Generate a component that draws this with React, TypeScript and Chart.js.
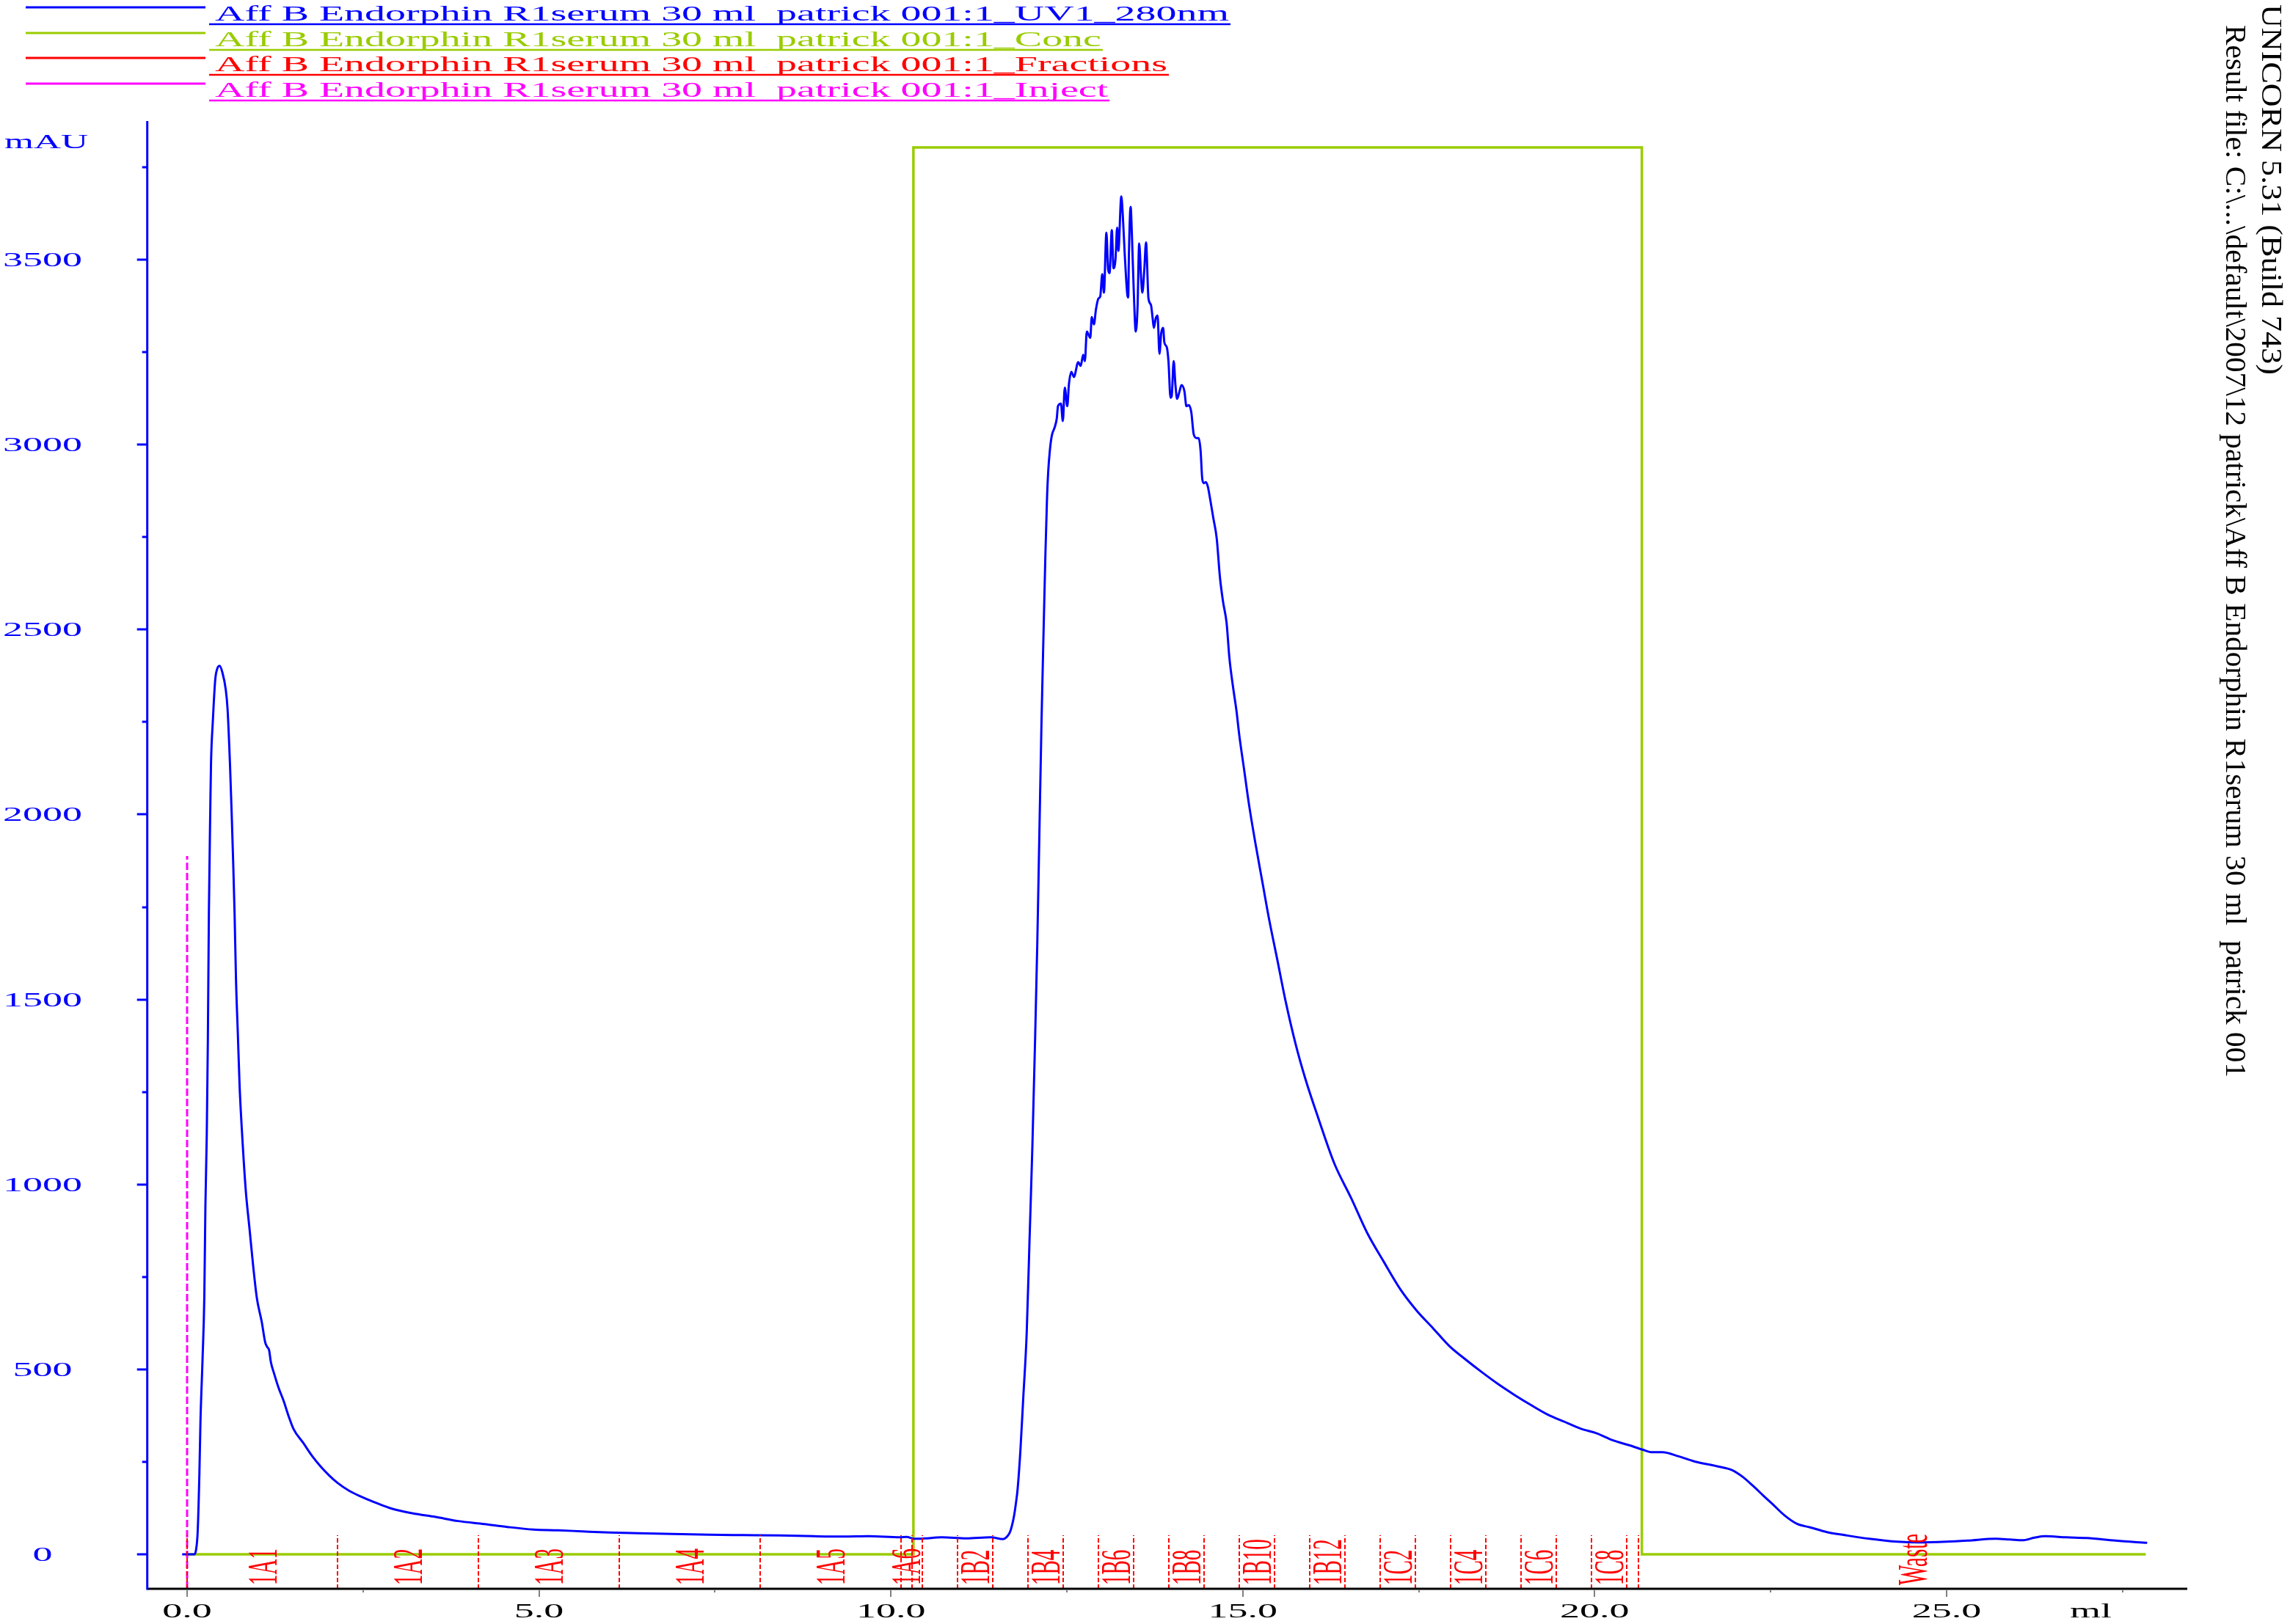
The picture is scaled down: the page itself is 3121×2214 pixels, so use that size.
import React, { useEffect, useRef } from 'react';
import { Chart, registerables } from 'chart.js';

Chart.register(...registerables);

// ---------------- DATA ----------------
const UV_ML = [
  -0.07, 0.10, 0.125, 0.15, 0.175, 0.19, 0.22, 0.245, 0.26, 0.28, 0.295, 0.31, 0.33, 0.34, 0.365, 0.40, 0.43, 0.462,
  0.50, 0.55, 0.575, 0.61, 0.636, 0.655, 0.675, 0.695, 0.72, 0.747, 0.782, 0.834, 0.886, 0.938, 0.991, 1.06, 1.11,
  1.14, 1.165, 1.19, 1.234, 1.30, 1.373, 1.44, 1.512, 1.651, 1.78, 1.895, 2.02, 2.138, 2.30, 2.485, 2.70, 2.90, 3.20,
  3.53, 3.85, 4.22, 4.55, 4.92, 5.27, 5.62, 6.0, 6.42, 6.9, 7.42, 7.9, 8.42, 8.9, 9.33, 9.68, 10.13, 10.22, 10.34,
  10.48, 10.72, 11.07, 11.42, 11.59, 11.66, 11.70, 11.75, 11.78, 11.80, 11.84, 11.88, 11.93, 11.97, 12.01, 12.05,
  12.08, 12.11, 12.14, 12.17, 12.195, 12.218,
  12.235, 12.259, 12.287, 12.329, 12.357, 12.374, 12.416, 12.443, 12.471, 12.506, 12.530, 12.565, 12.600, 12.662,
  12.697, 12.732, 12.756, 12.784, 12.833, 12.854, 12.885, 12.913, 12.948, 12.975, 13.003, 13.027, 13.062, 13.087,
  13.107, 13.139, 13.163, 13.191, 13.215, 13.232, 13.274, 13.295, 13.323, 13.358, 13.372, 13.382, 13.406, 13.427,
  13.451, 13.479, 13.504, 13.528, 13.556, 13.573, 13.601, 13.625, 13.660, 13.695, 13.719, 13.736, 13.764, 13.789,
  13.816, 13.841, 13.868, 13.886, 13.921, 13.945, 13.973, 13.990, 14.018, 14.042, 14.067, 14.101, 14.129, 14.171,
  14.199, 14.234, 14.268, 14.303, 14.345, 14.373, 14.400, 14.425, 14.449, 14.477, 14.504, 14.536,
  14.58, 14.63, 14.675, 14.72, 14.77, 14.81, 14.86, 14.91, 14.95, 15.02, 15.09, 15.19, 15.28, 15.37, 15.49, 15.61,
  15.75, 15.89, 16.07, 16.30, 16.54, 16.77, 17.00, 17.24, 17.47, 17.70, 17.93, 18.17, 18.40, 18.63, 18.86, 19.10,
  19.33, 19.56, 19.80, 20.03, 20.26, 20.49, 20.68, 20.82, 20.96, 21.19, 21.42, 21.74, 21.95, 22.10, 22.25, 22.40,
  22.52, 22.70, 22.88, 23.06, 23.30, 23.55, 23.90, 24.30, 24.60, 25.00, 25.30, 25.70, 25.90, 26.08, 26.25, 26.40,
  26.70, 26.99, 27.40, 27.85,
];
const UV_MAU = [
  0, 0, 10, 60, 220, 360, 530, 700, 940, 1140, 1390, 1740, 2020, 2140, 2250, 2365, 2395, 2402,
  2385, 2337, 2285, 2133, 1987, 1870, 1730, 1552, 1413, 1262, 1135, 983, 882, 781, 693, 629, 573,
  560, 552, 520, 490, 450, 414, 375, 339, 301, 265, 238, 213, 193, 172, 155, 138, 124, 111,
  101, 90, 82, 74, 67, 65, 62, 59, 57, 55, 53, 52, 51, 49, 48, 49, 46, 47, 42,
  43, 46, 43, 46, 41, 50, 64, 104, 143, 175, 280, 420, 600, 850, 1100, 1400,
  1650, 1950, 2250, 2500, 2700, 2853,
  2926, 2985, 3025, 3048, 3071, 3104, 3111, 3064, 3154, 3104, 3164, 3197, 3183, 3223,
  3213, 3243, 3226, 3306, 3289, 3345, 3325, 3365, 3395, 3401, 3461, 3411, 3573, 3474,
  3464, 3580, 3477, 3501, 3587, 3524, 3671, 3620, 3514, 3408, 3398, 3514, 3643, 3553,
  3415, 3306, 3368, 3544, 3448, 3411, 3474, 3547, 3395, 3378, 3342, 3316, 3342, 3349,
  3246, 3302, 3316, 3276, 3263, 3223, 3127, 3131, 3226, 3164, 3124, 3144, 3161, 3144,
  3104, 3107, 3088, 3028, 3018, 3018, 2985, 2906, 2896, 2899, 2886, 2853,
  2803, 2746, 2642, 2575, 2518, 2423, 2347, 2281, 2215, 2120, 2025, 1911, 1816, 1721, 1608, 1494,
  1380, 1285, 1181, 1057, 963, 868, 792, 716, 659, 612, 564, 526, 492, 460, 431, 403,
  378, 359, 340, 327, 308, 295, 283, 276, 276, 265, 251, 238, 228, 210, 185, 158,
  137, 105, 82, 73, 60, 52, 42, 34, 32, 34, 37, 42, 40, 38, 45, 49,
  46, 44, 37, 31,
];

const CONC_ML = [0, 10.32, 10.32, 20.67, 20.67, 27.83];
const CONC_PCT = [0, 0, 100, 100, 0, 0];

const INJECT_ML = [0, 0];
const INJECT_MAU = [-93.2, 1888];

const FRACTION_MARKS_ML = [
  0, 2.14, 4.14, 6.14, 8.14, 10.14, 10.30, 10.45, 10.95, 11.45, 11.95, 12.45, 12.95, 13.45, 13.95, 14.45,
  14.95, 15.45, 15.95, 16.45, 16.95, 17.45, 17.95, 18.45, 18.95, 19.45, 19.95, 20.45, 20.62,
];
const FRACTION_LABELS = [
  '1A1', '1A2', '1A3', '1A4', '1A5', '1A6', '', '', '1B2', '', '1B4', '', '1B6', '', '1B8', '',
  '1B10', '', '1B12', '', '1C2', '', '1C4', '', '1C6', '', '1C8', '', 'Waste',
];

const X_TICKS = [0, 2.5, 5, 7.5, 10, 12.5, 15, 17.5, 20, 22.5, 25, 27.5];
const X_LABEL_VALUES = [0, 5, 10, 15, 20, 25];
const X_TICK_LABELS = ['0.0', '5.0', '10.0', '15.0', '20.0', '25.0'];
const X_UNIT = 'ml';
const X_UNIT_AT = 27.05;

const Y_TICKS = [0, 250, 500, 750, 1000, 1250, 1500, 1750, 2000, 2250, 2500, 2750, 3000, 3250, 3500, 3750];
const Y_LABEL_VALUES = [0, 500, 1000, 1500, 2000, 2500, 3000, 3500];
const Y_TICK_LABELS = ['0', '500', '1000', '1500', '2000', '2500', '3000', '3500'];
const Y_UNIT = 'mAU';

const LEGEND_NAMES = [
  'Aff B Endorphin R1serum 30 ml  patrick 001:1_UV1_280nm',
  'Aff B Endorphin R1serum 30 ml  patrick 001:1_Conc',
  'Aff B Endorphin R1serum 30 ml  patrick 001:1_Fractions',
  'Aff B Endorphin R1serum 30 ml  patrick 001:1_Inject',
];
const SIDE_TEXT_1 = 'UNICORN 5.31 (Build 743)';
const SIDE_TEXT_2 = 'Result file: C:\\...\\default\\2007\\12 patrick\\Aff B Endorphin R1serum 30 ml  patrick 001';

// ---------------- STYLE ----------------
const BLUE = '#0000FF';
const GREEN = '#99CC00';
const RED = '#FF0000';
const MAGENTA = '#FF00FF';
const LEGEND_COLORS = [BLUE, GREEN, RED, MAGENTA];
const SERIF = '"Liberation Serif", "Times New Roman", serif';

const X_MIN = -0.566;
const X_MAX = 28.42;
const Y_MIN = -93.2;
const Y_MAX = 3875;
const CONC_MIN = -2.45;
const CONC_MAX = 101.88;

function drawText(
  ctx: CanvasRenderingContext2D,
  s: string,
  x: number,
  y: number,
  size: number,
  color: string,
  sx: number,
  align: CanvasTextAlign,
  rot = 0,
) {
  ctx.save();
  ctx.translate(x, y);
  if (rot) ctx.rotate(rot);
  ctx.scale(sx, 1);
  ctx.font = `${size}px ${SERIF}`;
  ctx.fillStyle = color;
  ctx.textAlign = align;
  ctx.textBaseline = 'alphabetic';
  ctx.fillText(s, 0, 0);
  ctx.restore();
}

function hLine(ctx: CanvasRenderingContext2D, x1: number, x2: number, y: number, color: string, w: number) {
  ctx.beginPath();
  ctx.strokeStyle = color;
  ctx.lineWidth = w;
  ctx.moveTo(x1, y);
  ctx.lineTo(x2, y);
  ctx.stroke();
}
function vLine(ctx: CanvasRenderingContext2D, x: number, y1: number, y2: number, color: string, w: number) {
  ctx.beginPath();
  ctx.strokeStyle = color;
  ctx.lineWidth = w;
  ctx.moveTo(x, y1);
  ctx.lineTo(x, y2);
  ctx.stroke();
}

const unicornPlugin = {
  id: 'unicornDecor',
  afterDatasetsDraw(chart: any) {
    const ctx: CanvasRenderingContext2D = chart.ctx;
    const xs = chart.scales.x;
    const area = chart.chartArea;
    const axisY = area.bottom;
    ctx.save();
    ctx.setLineDash([6, 3]);
    FRACTION_MARKS_ML.forEach((m) => {
      const px = Math.round(xs.getPixelForValue(m));
      vLine(ctx, px, axisY, axisY - 73, RED, 2);
    });
    ctx.setLineDash([]);
    FRACTION_LABELS.forEach((lab, i) => {
      if (!lab) return;
      const a = FRACTION_MARKS_ML[i];
      const b = i + 1 < FRACTION_MARKS_ML.length ? FRACTION_MARKS_ML[i + 1] : X_MAX;
      const mid = xs.getPixelForValue((a + b) / 2);
      drawText(ctx, lab, mid + 19, axisY - 5, 58, RED, 0.5, 'left', -Math.PI / 2);
    });
    ctx.restore();
  },
  afterDraw(chart: any) {
    const ctx: CanvasRenderingContext2D = chart.ctx;
    const xs = chart.scales.x;
    const ys = chart.scales.y;
    const area = chart.chartArea;
    ctx.save();
    // x axis
    hLine(ctx, area.left, area.right, area.bottom, '#000000', 3);
    X_TICKS.forEach((v) => {
      const px = Math.round(xs.getPixelForValue(v));
      const major = X_LABEL_VALUES.includes(v);
      vLine(ctx, px, area.bottom + 1.5, area.bottom + (major ? 11 : 5), '#808080', 2);
    });
    X_LABEL_VALUES.forEach((v, i) => {
      drawText(ctx, X_TICK_LABELS[i], xs.getPixelForValue(v), 2205, 27, '#000000', 2.0, 'center');
    });
    drawText(ctx, X_UNIT, xs.getPixelForValue(X_UNIT_AT), 2205, 27, '#000000', 2.0, 'center');
    // y axis
    vLine(ctx, area.left, area.top, area.bottom + 1.5, BLUE, 3);
    Y_TICKS.forEach((v) => {
      const py = Math.round(ys.getPixelForValue(v));
      const major = Y_LABEL_VALUES.includes(v);
      hLine(ctx, area.left - (major ? 14 : 7), area.left, py, BLUE, 3);
    });
    Y_LABEL_VALUES.forEach((v, i) => {
      drawText(ctx, Y_TICK_LABELS[i], 58, ys.getPixelForValue(v) + 9, 27, BLUE, 2.0, 'center');
    });
    drawText(ctx, Y_UNIT, 63, 202, 27, BLUE, 1.9, 'center');

    // legend
    ctx.font = `30px ${SERIF}`;
    const w0 = ctx.measureText(LEGEND_NAMES[0]).width;
    const lsx = 1382 / w0;
    const baselines = [28, 63, 97, 132];
    LEGEND_NAMES.forEach((name, i) => {
      const b = baselines[i];
      const col = LEGEND_COLORS[i];
      hLine(ctx, 35, 280, b - 18, col, 3);
      drawText(ctx, name, 293, b, 30, col, lsx, 'left');
      ctx.font = `30px ${SERIF}`;
      const w = ctx.measureText(name).width * lsx;
      hLine(ctx, 285, 293 + w + 2, b + 5, col, 2.5);
    });

    // side texts
    ctx.font = `40px ${SERIF}`;
    const w1 = ctx.measureText(SIDE_TEXT_1).width;
    const w2 = ctx.measureText(SIDE_TEXT_2).width;
    drawText(ctx, SIDE_TEXT_1, 3083, 6, 40, '#000000', 505 / w1, 'left', Math.PI / 2);
    drawText(ctx, SIDE_TEXT_2, 3034, 34, 40, '#000000', 1435 / w2, 'left', Math.PI / 2);
    ctx.restore();
  },
};

export default function App() {
  const ref = useRef<HTMLCanvasElement | null>(null);
  useEffect(() => {
    document.body.style.margin = '0';
    document.documentElement.style.overflow = 'hidden';
    const canvas = ref.current;
    if (!canvas) return;
    const uv = UV_ML.map((x, i) => ({ x, y: UV_MAU[i] }));
    const conc = CONC_ML.map((x, i) => ({ x, y: CONC_PCT[i] }));
    const inj = INJECT_ML.map((x, i) => ({ x, y: INJECT_MAU[i] }));
    const chart = new Chart(canvas, {
      type: 'line',
      data: {
        datasets: [
          {
            label: LEGEND_NAMES[0],
            data: uv,
            borderColor: BLUE,
            borderWidth: 3,
            pointRadius: 0,
            fill: false,
            cubicInterpolationMode: 'monotone',
            borderJoinStyle: 'round',
            yAxisID: 'y',
          },
          {
            label: LEGEND_NAMES[1],
            data: conc,
            borderColor: GREEN,
            borderWidth: 3.5,
            pointRadius: 0,
            fill: false,
            tension: 0,
            yAxisID: 'conc',
          },
          {
            label: LEGEND_NAMES[3],
            data: inj,
            borderColor: MAGENTA,
            borderWidth: 3,
            borderDash: [10, 4],
            pointRadius: 0,
            fill: false,
            tension: 0,
            yAxisID: 'y',
          },
        ],
      },
      options: {
        responsive: false,
        devicePixelRatio: 1,
        animation: false,
        events: [],
        layout: { padding: { left: 200.7, right: 140, top: 165, bottom: 48 } },
        plugins: { legend: { display: false }, tooltip: { enabled: false } },
        scales: {
          x: { type: 'linear', display: false, min: X_MIN, max: X_MAX },
          y: { type: 'linear', display: false, min: Y_MIN, max: Y_MAX },
          conc: { type: 'linear', axis: 'y', display: false, min: CONC_MIN, max: CONC_MAX },
        },
      } as any,
      plugins: [unicornPlugin],
    } as any);
    return () => chart.destroy();
  }, []);
  return (
    <canvas
      ref={ref}
      width={3121}
      height={2214}
      style={{ display: 'block', width: '3121px', height: '2214px' }}
    />
  );
}
